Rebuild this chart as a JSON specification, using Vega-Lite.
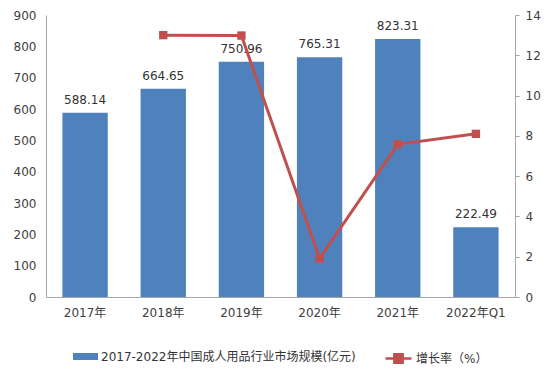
{
  "$schema": "https://vega.github.io/schema/vega-lite/v6.json",
  "width": 469,
  "height": 282,
  "autosize": {"type": "none"},
  "padding": {"left": 46, "top": 15, "right": 39, "bottom": 74},
  "background": "white",
  "config": {
    "view": {"stroke": null},
    "font": "DejaVu Sans, Noto Sans CJK SC",
    "axis": {"labelFont": "DejaVu Sans, Noto Sans CJK SC", "labelColor": "#404040", "labelFontSize": 12, "labelOverlap": false, "domainColor": "#A6A6A6", "tickColor": "#A6A6A6", "grid": false, "title": null},
    "legend": {"labelFont": "DejaVu Sans, Noto Sans CJK SC", "labelColor": "#333333", "labelFontSize": 12, "labelLimit": 400}
  },
  "data": {
    "values": [
      {"year": "2017年", "size": 588.14, "growth": null},
      {"year": "2018年", "size": 664.65, "growth": 13.0},
      {"year": "2019年", "size": 750.96, "growth": 12.98},
      {"year": "2020年", "size": 765.31, "growth": 1.91},
      {"year": "2021年", "size": 823.31, "growth": 7.58},
      {"year": "2022年Q1", "size": 222.49, "growth": 8.1}
    ]
  },
  "encoding": {
    "x": {
      "field": "year", "type": "nominal", "sort": null,
      "scale": {"paddingInner": 0.42, "paddingOuter": 0.21},
      "axis": {"labelAngle": 0, "ticks": false, "labelPadding": 10, "domainColor": "#A6A6A6"}
    }
  },
  "layer": [
    {
      "encoding": {
        "y": {"field": "size", "type": "quantitative", "scale": {"domain": [0, 900], "nice": false},
          "axis": {"orient": "left", "values": [0,100,200,300,400,500,600,700,800,900], "labelOverlap": false, "labelFlush": false, "labelBound": false, "ticks": false, "labelPadding": 10}}
      },
      "layer": [
        {
          "mark": {"type": "bar"},
          "encoding": {
            "fill": {"datum": "2017-2022年中国成人用品行业市场规模(亿元)", "type": "nominal",
              "scale": {"range": ["#4F81BD"]},
              "legend": {"orient": "none", "legendX": 27, "legendY": 329, "title": null, "symbolType": "M-1,-0.28H1V0.28H-1Z", "symbolSize": 625, "symbolStrokeWidth": 0, "padding": 0, "labelOffset": 3}}
          }
        },
        {
          "mark": {"type": "text", "dy": -13, "fontSize": 12, "color": "#333333", "font": "DejaVu Sans"},
          "encoding": {
            "text": {"field": "size", "type": "quantitative", "format": ".2f"}
          }
        }
      ]
    },
    {
      "transform": [{"filter": "datum.growth != null"}],
      "encoding": {
        "y": {"field": "growth", "type": "quantitative", "scale": {"domain": [0, 14], "nice": false},
          "axis": {"orient": "right", "values": [0,2,4,6,8,10,12,14], "labelOverlap": false, "labelFlush": false, "ticks": true, "tickSize": 4, "labelPadding": 6}}
      },
      "layer": [
        {
          "mark": {"type": "line", "strokeWidth": 3},
          "encoding": {
            "stroke": {"datum": "增长率（%）", "type": "nominal",
              "scale": {"range": ["#C0504D"]},
              "legend": {"orient": "none", "legendX": 338, "legendY": 329, "title": null, "symbolType": "M-1,0H1M-0.32,-0.32H0.32V0.32H-0.32Z", "symbolSize": 676, "symbolStrokeWidth": 2.5, "symbolFillColor": "#C0504D", "padding": 0, "labelOffset": 3}}
          }
        },
        {
          "mark": {"type": "point", "shape": "square", "size": 70, "filled": true, "color": "#C0504D", "opacity": 1}
        }
      ]
    }
  ],
  "resolve": {"scale": {"y": "independent"}}
}
